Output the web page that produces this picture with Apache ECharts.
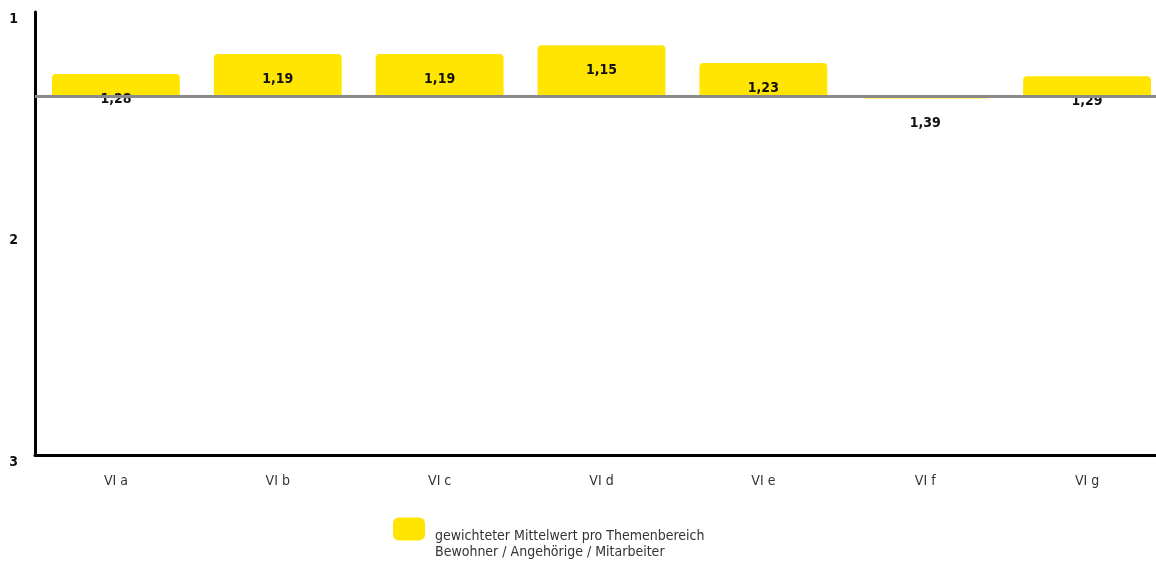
<!DOCTYPE html>
<html>
<head>
<meta charset="utf-8">
<script src="https://cdn.jsdelivr.net/npm/echarts@6/dist/echarts.min.js"></script>
<style>
  html, body { margin: 0; padding: 0; background: #fff; }
  #chart { width: 1156px; height: 561px; }
</style>
</head>
<body>
<div id="chart"></div>
<script>
// Weighted mean per topic area (scale 1 = best, 3 = worst)
const categories = ['VI a', 'VI b', 'VI c', 'VI d', 'VI e', 'VI f', 'VI g'];
const values = [1.28, 1.19, 1.19, 1.15, 1.23, 1.39, 1.29];
const baseline = 1.375;
const yTicks = [1, 2, 3];
const legendLines = ['gewichteter Mittelwert pro Themenbereich', 'Bewohner / Angehörige / Mitarbeiter'];
const seriesName = legendLines.join(' ');

const FONT = '"Liberation Sans Narrow", "DejaVu Sans Condensed", "Noto Sans", sans-serif';
const YELLOW = '#FFE500';

const chart = echarts.init(document.getElementById('chart'));

function fmt(v) { return v.toFixed(2).replace('.', ','); }

chart.setOption({
  animation: false,
  // plot area runs a little past the right edge of the canvas
  grid: { left: 35, top: 12, bottom: 106, right: -12, outerBoundsMode: 'none', containLabel: false },
  legend: {
    top: 506,
    left: 393,
    padding: 0,
    itemWidth: 32,
    itemHeight: 23,
    itemGap: 10,
    selectedMode: false,
    data: [{ name: seriesName, icon: 'roundRect', itemStyle: { color: YELLOW } }],
    formatter: function () {
      return '{s| }\n{t|' + legendLines[0] + '}\n{t|' + legendLines[1] + '}';
    },
    textStyle: {
      fontFamily: FONT,
      fontSize: 14,
      color: '#333',
      rich: {
        s: { fontFamily: FONT, fontSize: 14, lineHeight: 31 },
        t: { fontFamily: FONT, fontSize: 14, lineHeight: 16, color: '#333', padding: [0, 0, 0, 5] }
      }
    }
  },
  xAxis: {
    type: 'category',
    data: categories,
    position: 'bottom',
    axisLine: { onZero: false, lineStyle: { color: '#000', width: 3 } },
    axisTick: { show: false },
    axisLabel: { margin: 19, fontFamily: FONT, fontSize: 14, color: '#333' },
    splitLine: { show: false }
  },
  yAxis: {
    type: 'value',
    inverse: true,
    min: yTicks[0],
    max: yTicks[yTicks.length - 1],
    interval: 1,
    axisLine: { show: true, lineStyle: { color: '#000', width: 3 } },
    axisTick: { show: false },
    splitLine: { show: false },
    axisLabel: {
      margin: 17,
      verticalAlign: 'top',
      fontFamily: FONT,
      fontSize: 14,
      fontWeight: 'bold',
      color: '#111'
    }
  },
  series: [{
    name: seriesName,
    type: 'custom',
    itemStyle: { color: YELLOW },
    data: categories.map((c, i) => [i, values[i]]),
    renderItem: function (params, api) {
      const idx = api.value(0);
      const v = api.value(1);
      const pBase = api.coord([idx, baseline]);
      const pVal = api.coord([idx, v]);
      const w = api.size([1, 0])[0] * 0.79;
      const y0 = Math.min(pBase[1], pVal[1]);
      const h = Math.abs(pBase[1] - pVal[1]);
      const up = pVal[1] < pBase[1];
      return {
        type: 'group',
        children: [{
          type: 'rect',
          shape: { x: pBase[0] - w / 2, y: y0, width: w, height: h, r: up ? [4, 4, 0, 0] : [0, 0, 4, 4] },
          style: { fill: YELLOW }
        }, {
          type: 'text',
          z2: 10,
          style: {
            text: fmt(v),
            x: pVal[0],
            y: pVal[1] + 25,
            align: 'center',
            verticalAlign: 'middle',
            fontFamily: FONT,
            fontSize: 14,
            fontWeight: 'bold',
            fill: '#111'
          }
        }]
      };
    },
    markLine: {
      silent: true,
      symbol: 'none',
      label: { show: false },
      lineStyle: { color: '#8a8a8a', width: 3, type: 'solid' },
      data: [{ yAxis: baseline }],
      z: 3
    }
  }]
});
</script>
</body>
</html>
